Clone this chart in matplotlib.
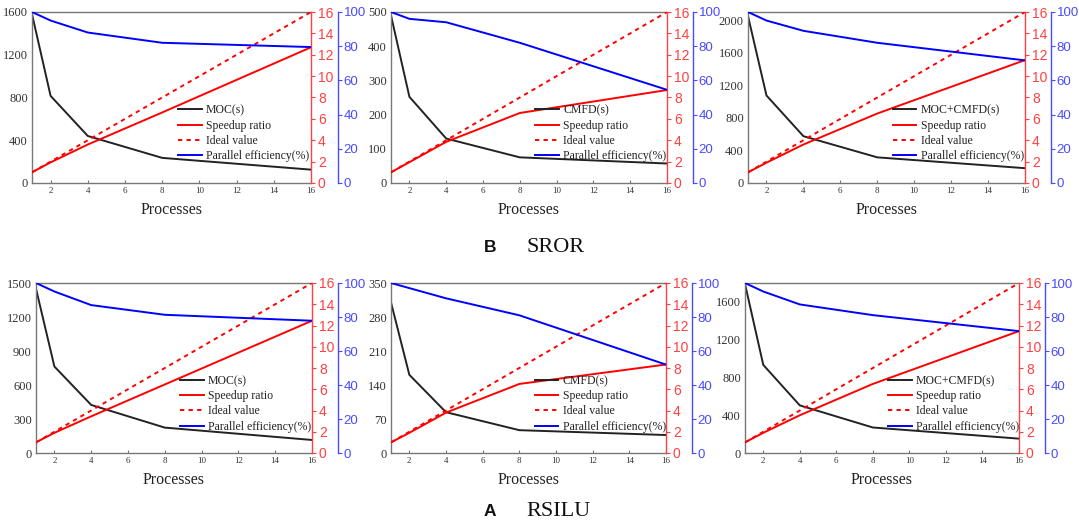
import matplotlib
matplotlib.use("Agg")
import matplotlib.pyplot as plt

W, H = 1079, 527
DPI = 100

processes = [1, 2, 4, 8, 16]
ideal = [1, 2, 4, 8, 16]
x_ticks = [2, 4, 6, 8, 10, 12, 14, 16]

# SROR (top row)
sror_moc_time = [1580, 815, 440, 235, 125]
sror_moc_speedup = [1.0, 1.93, 3.6, 6.6, 12.7]
sror_moc_eff = [100, 95, 88, 82, 79.5]

sror_cmfd_time = [490, 252, 130, 75, 57]
sror_cmfd_speedup = [1.0, 1.95, 3.85, 6.55, 8.7]
sror_cmfd_eff = [100, 96, 94, 82, 54.5]

sror_all_time = [2050, 1075, 575, 315, 182]
sror_all_speedup = [1.0, 1.9, 3.6, 6.5, 11.5]
sror_all_eff = [100, 95, 89, 82, 71.7]

# RSILU (bottom row)
rsilu_moc_time = [1450, 763, 424, 224, 115]
rsilu_moc_speedup = [1.0, 1.9, 3.45, 6.45, 12.45]
rsilu_moc_eff = [100, 95, 87, 81.3, 77.8]

rsilu_cmfd_time = [310, 161, 84, 47, 37]
rsilu_cmfd_speedup = [1.0, 1.9, 3.8, 6.5, 8.33]
rsilu_cmfd_eff = [100, 97, 91, 81, 52]

rsilu_all_time = [1790, 933, 504, 270, 152]
rsilu_all_speedup = [1.0, 1.9, 3.55, 6.5, 11.47]
rsilu_all_eff = [100, 95, 87.4, 81.1, 71.7]

legend_labels = ["Speedup ratio", "Ideal value", "Parallel efficiency(%)"]

SERIF = "Liberation Serif"
SANS = "Liberation Sans"
GRAY = "#333333"
RED = "#ff0000"
BLUE = "#0000ff"
RED_T = "#ff4040"
BLUE_T = "#4a4aff"

panels = [
    # left px, top px, width px, height px, blue offset px, time, speedup, eff, label, ymax, ystep, ytickmax
    (32, 12, 279, 171, 27, sror_moc_time, sror_moc_speedup, sror_moc_eff, "MOC(s)", 1600, 400, 1600),
    (391, 12, 276, 171, 26, sror_cmfd_time, sror_cmfd_speedup, sror_cmfd_eff, "CMFD(s)", 500, 100, 500),
    (748, 12, 277, 171, 26, sror_all_time, sror_all_speedup, sror_all_eff, "MOC+CMFD(s)", 2100, 400, 2000),
    (36, 283, 276, 170, 26, rsilu_moc_time, rsilu_moc_speedup, rsilu_moc_eff, "MOC(s)", 1500, 300, 1500),
    (391, 283, 275, 170, 26, rsilu_cmfd_time, rsilu_cmfd_speedup, rsilu_cmfd_eff, "CMFD(s)", 350, 70, 350),
    (745, 283, 274, 170, 26, rsilu_all_time, rsilu_all_speedup, rsilu_all_eff, "MOC+CMFD(s)", 1800, 400, 1600),
]

fig = plt.figure(figsize=(W / DPI, H / DPI), dpi=DPI)

for (lx, ty, wpx, hpx, boff, t, sp, ef, lab, ymax, ystep, ytmax) in panels:
    ax = fig.add_axes([lx / W, 1 - (ty + hpx) / H, wpx / W, hpx / H])
    ax2 = ax.twinx()
    ax3 = ax.twinx()

    l1, = ax.plot(processes, t, color="#222222", lw=1.4)
    l2, = ax2.plot(processes, sp, color=RED, lw=1.4)
    l3, = ax2.plot(processes, ideal, color=RED, lw=1.4, ls=(0, (2.2, 2.2)))
    l4, = ax3.plot(processes, ef, color=BLUE, lw=1.4)

    ax.set_xlim(1, 16)
    ax.set_ylim(0, ymax)
    ax.set_yticks(list(range(0, ytmax + 1, ystep)))
    ax.set_xticks(x_ticks)
    ax2.set_ylim(0, 16)
    ax2.set_yticks(list(range(0, 17, 2)))
    ax3.set_ylim(0, 100)
    ax3.set_yticks(list(range(0, 101, 20)))

    for s in ["left", "bottom", "top"]:
        ax.spines[s].set_color("#777777")
        ax.spines[s].set_linewidth(1.0)
    ax.spines["right"].set_visible(False)
    for s in ["left", "bottom", "top"]:
        ax2.spines[s].set_visible(False)
        ax3.spines[s].set_visible(False)
    ax2.spines["right"].set_color(RED_T)
    ax2.spines["right"].set_linewidth(1.0)
    ax3.spines["right"].set_position(("axes", 1 + boff / wpx))
    ax3.spines["right"].set_color(BLUE_T)
    ax3.spines["right"].set_linewidth(1.0)

    ax.tick_params(axis="y", length=0, pad=3, labelsize=9, labelcolor=GRAY)
    ax.tick_params(axis="x", direction="in", length=2, pad=3, labelsize=6.5,
                   labelcolor=GRAY, color="#777777")
    for lbl in ax.get_yticklabels() + ax.get_xticklabels():
        lbl.set_fontfamily(SERIF)
    ax2.tick_params(axis="y", direction="out", length=3, pad=2, labelsize=10,
                    colors=RED_T)
    ax3.tick_params(axis="y", direction="out", length=3, pad=1, labelsize=9.5,
                    colors=BLUE_T)
    for lbl in ax2.get_yticklabels() + ax3.get_yticklabels():
        lbl.set_fontfamily(SANS)

    ax.set_xlabel("Processes", fontfamily=SERIF, fontsize=11.5, color="#222222",
                  labelpad=5)

    ax3.legend([l1, l2, l3, l4], [lab] + legend_labels, loc="upper left",
               bbox_to_anchor=(0.523, 0.46), frameon=False, borderpad=0,
               borderaxespad=0, handlelength=2.0, handletextpad=0.35,
               labelspacing=0.28, prop={"family": SERIF, "size": 8.5},
               labelcolor="#222222")

# captions
fig.text(490 / W, 1 - 247 / H, "B", fontfamily=SANS, fontweight="bold",
         fontsize=12.5, ha="center", va="center", color="#111111")
fig.text(526 / W, 1 - 247 / H, "SROR", fontfamily=SERIF, fontsize=16,
         ha="left", va="center", color="#111111")
fig.text(490 / W, 1 - 512 / H, "A", fontfamily=SANS, fontweight="bold",
         fontsize=12.5, ha="center", va="center", color="#111111")
fig.text(526 / W, 1 - 512 / H, "RSILU", fontfamily=SERIF, fontsize=16,
         ha="left", va="center", color="#111111")

fig.savefig("out.png", dpi=DPI)
